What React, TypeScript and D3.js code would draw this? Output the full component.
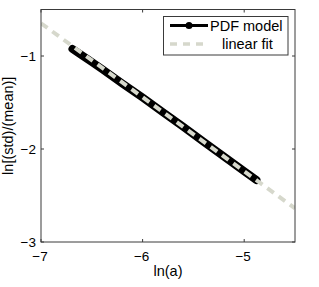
import * as d3 from 'd3';
import React from 'react';

// ln(a) vs ln[(std)/(mean)]
const lnA = [-6.69, -6.6, -6.5, -6.4, -6.2, -6.0, -5.8, -5.6, -5.4, -5.2, -5.0, -4.88];
const pdfModel = [-0.925, -0.99, -1.065, -1.14, -1.295, -1.447, -1.604, -1.762, -1.921, -2.08, -2.239, -2.334];
const fitX = [-7, -4.5];
const fitY = [-0.648, -2.638];
const xTicks = [-7, -6, -5];
const yTicks = [-3, -2, -1];

const W = 319;
const H = 287;
const box = { left: 41, right: 295, top: 9.5, bottom: 242 };
const font = '"Liberation Sans", Arial, Helvetica, sans-serif';
const axisColor = '#3a3a3a';
const fitColor = '#d6d8cc';

const minus = (v: number) => String(v).replace('-', '\u2212');

export default function App() {
  const x = d3.scaleLinear().domain([-7, -4.5]).range([box.left, box.right]);
  const y = d3.scaleLinear().domain([-3, -0.5]).range([box.bottom, box.top]);

  const line = d3
    .line<[number, number]>()
    .x((d) => x(d[0]))
    .y((d) => y(d[1]));

  const modelPts = lnA.map((a, i) => [a, pdfModel[i]] as [number, number]);
  const fitPts = fitX.map((a, i) => [a, fitY[i]] as [number, number]);
  const tick = 3;

  return (
    <svg width={W} height={H} style={{ position: 'absolute', left: 0, top: 0 }} fontFamily={font}>
      <rect width={W} height={H} fill="#fff" />
      <defs>
        <clipPath id="plot">
          <rect x={box.left} y={box.top} width={box.right - box.left} height={box.bottom - box.top} />
        </clipPath>
      </defs>

      <g clipPath="url(#plot)">
        <path d={line(modelPts) ?? ''} fill="none" stroke="#000" strokeWidth={8} strokeLinecap="round" strokeLinejoin="round" />
        <path d={line(fitPts) ?? ''} fill="none" stroke={fitColor} strokeWidth={4} strokeDasharray="8,6" />
      </g>

      {/* box + ticks */}
      <rect
        x={box.left}
        y={box.top}
        width={box.right - box.left}
        height={box.bottom - box.top}
        fill="none"
        stroke={axisColor}
        strokeWidth={1}
      />
      {xTicks.map((t) => (
        <g key={'x' + t}>
          <line x1={x(t)} x2={x(t)} y1={box.bottom} y2={box.bottom - tick} stroke={axisColor} />
          <line x1={x(t)} x2={x(t)} y1={box.top} y2={box.top + tick} stroke={axisColor} />
          <text x={x(t) - 1} y={261} textAnchor="middle" fontSize={13.5} fill="#000">
            {minus(t)}
          </text>
        </g>
      ))}
      {yTicks.map((t) => (
        <g key={'y' + t}>
          <line x1={box.left} x2={box.left + tick} y1={y(t)} y2={y(t)} stroke={axisColor} />
          <line x1={box.right} x2={box.right - tick} y1={y(t)} y2={y(t)} stroke={axisColor} />
          <text x={36} y={y(t) + 4.5} textAnchor="end" fontSize={13.5} fill="#000">
            {minus(t)}
          </text>
        </g>
      ))}

      <text x={(box.left + box.right) / 2} y={276} textAnchor="middle" fontSize={14.5} fill="#000">
        ln(a)
      </text>
      <text
        transform={`translate(12.5, ${(box.top + box.bottom) / 2}) rotate(-90)`}
        textAnchor="middle"
        fontSize={14.5}
        fill="#000"
      >
        ln[(std)/(mean)]
      </text>

      {/* legend */}
      <g>
        <rect x={163.5} y={16.5} width={124.5} height={38.5} fill="#fff" stroke={axisColor} />
        <line x1={170} x2={208} y1={25.5} y2={25.5} stroke="#000" strokeWidth={3} />
        <circle cx={189} cy={25.5} r={3.5} fill="#000" />
        <text x={210} y={30.5} fontSize={14.5} fill="#000">
          PDF model
        </text>
        <line x1={170} x2={208} y1={44} y2={44} stroke={fitColor} strokeWidth={3.5} strokeDasharray="7,6" />
        <text x={222} y={49} fontSize={14.5} fill="#000">
          linear fit
        </text>
      </g>
    </svg>
  );
}
